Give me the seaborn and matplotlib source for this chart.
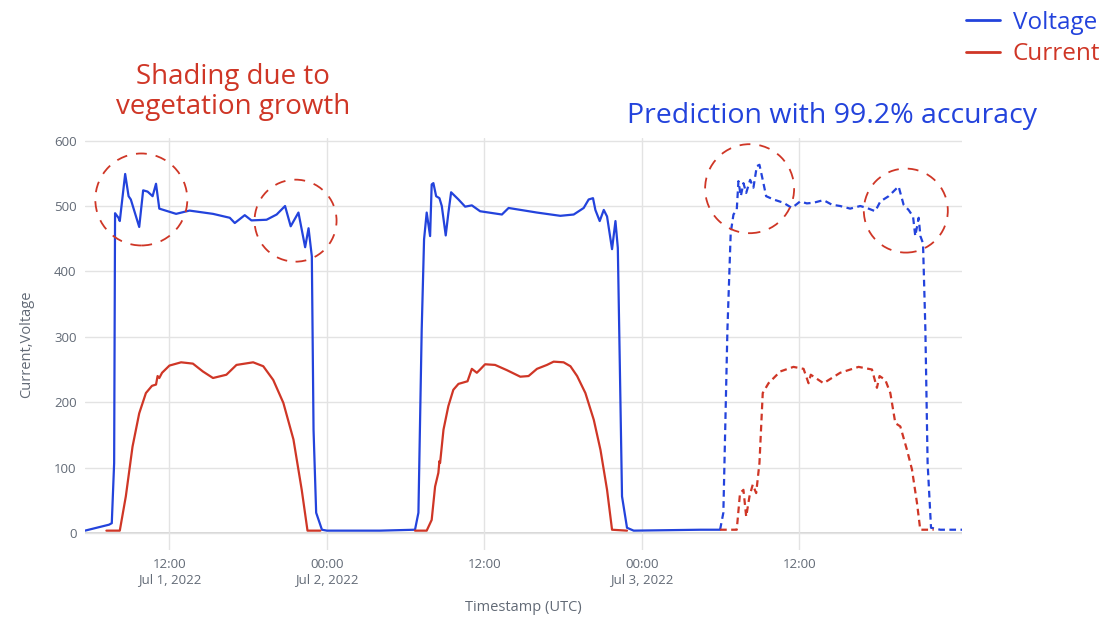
import pandas as pd
import numpy as np
import matplotlib
matplotlib.use('Agg')
import matplotlib.pyplot as plt
import seaborn as sns
from matplotlib.patches import Ellipse
from matplotlib.lines import Line2D

# hours counted from 2022-07-01 00:00 UTC
volt_hours = [5.57, 7.40, 7.61, 7.79, 7.86, 8.12, 8.22, 8.63, 8.89, 9.06, 9.70, 10.0, 10.34,
              10.72, 10.98, 11.23, 12.51, 13.53, 15.32, 16.6, 16.98, 17.74, 18.25, 19.40,
              20.17, 20.81, 21.24, 21.83, 22.34, 22.6, 22.85, 22.98, 23.18, 23.62, 24.0,
              28.04, 30.71, 30.97, 31.22, 31.40, 31.6, 31.86, 31.98, 32.11, 32.32, 32.57,
              32.75, 33.05, 33.25, 33.46, 34.02, 34.53, 35.04, 35.67, 37.33, 37.84, 40.0,
              41.78, 42.80, 43.56, 43.94, 44.27, 44.45, 44.78, 45.09, 45.34, 45.72, 45.98,
              46.16, 46.31, 46.48, 46.86, 47.37, 52.46, 53.95]
volt_vals = [3.6, 12.7, 15, 107, 489, 482, 477, 549, 515, 510, 468, 524, 522,
             515, 534, 496, 488, 493, 488, 482, 474, 486, 478, 479,
             487, 500, 469, 490, 437, 466, 423, 158, 31, 5, 3.6,
             3.6, 5, 31, 311, 449, 490, 454, 533, 535, 515, 512,
             500, 455, 489, 521, 510, 499, 501, 492, 487, 497, 490,
             485, 487, 497, 510, 512, 494, 477, 494, 484, 434, 477,
             436, 260, 56, 8, 3.6, 5, 5]

curr1_hours = [7.2, 8.22, 8.68, 9.19, 9.70, 10.21, 10.67, 10.98, 11.1, 11.23, 11.44, 12.0,
               12.89, 13.79, 14.55, 15.32, 16.34, 17.11, 18.38, 19.15, 19.91, 20.68, 21.45,
               22.08, 22.52, 23.5]
curr1_vals = [3.6, 3.6, 56, 132, 183, 214, 225, 227, 240, 237, 245, 256,
              261, 259, 247, 237, 242, 257, 261, 255, 234, 199, 143,
              66, 3.6, 3.6]

curr2_hours = [30.71, 31.6, 31.98, 32.24, 32.49, 32.57, 32.62, 32.88, 33.25, 33.63, 34.02,
               34.71, 35.04, 35.42, 35.67, 36.05, 36.81, 37.71, 38.73, 39.36, 40.0, 40.76,
               41.27, 42.03, 42.55, 43.06, 43.69, 44.33, 44.84, 45.34, 45.72, 46.86]
curr2_vals = [3.6, 3.6, 20, 71, 92, 110, 107, 158, 194, 219, 228,
              232, 251, 245, 250, 258, 257, 249, 239, 240, 251, 257,
              262, 261, 255, 240, 214, 173, 127, 66, 5, 3.6]

pred_volt_hours = [53.95, 54.20, 54.51, 54.76, 54.97, 55.22, 55.35, 55.53, 55.73, 55.94,
                   56.24, 56.49, 56.75, 56.95, 57.20, 57.46, 58.02, 58.78, 59.42, 60.05,
                   60.56, 61.07, 61.83, 62.47, 63.10, 63.86, 64.63, 65.14, 65.77, 66.16,
                   66.79, 67.55, 67.93, 68.31, 68.65, 68.82, 69.08, 69.21, 69.41, 69.59,
                   69.76, 70.02, 70.73, 72.38]
pred_volt_vals = [5, 31, 311, 459, 487, 494, 538, 515, 535, 520,
                  540, 528, 561, 563, 540, 515, 510, 505, 497, 507,
                  504, 505, 509, 502, 500, 496, 500, 497, 492, 507,
                  515, 530, 502, 494, 484, 454, 482, 454, 443, 311,
                  107, 8, 5, 5]

pred_curr_hours = [53.95, 55.22, 55.47, 55.73, 55.94, 56.19, 56.44, 56.70, 56.95, 57.20,
                   57.64, 58.53, 59.54, 60.31, 60.69, 60.86, 61.83, 63.10, 64.50, 65.52,
                   65.90, 66.10, 66.54, 66.92, 67.30, 67.68, 68.19, 68.57, 68.95, 69.20, 70.22]
pred_curr_vals = [5, 5, 61, 66, 25, 56, 74, 61, 107, 214,
                  229, 247, 254, 251, 229, 242, 229, 245, 254, 250,
                  222, 240, 234, 214, 168, 163, 127, 97, 46, 5, 5]

# dashed highlight circles: centre hour, centre value, radius in px
circle_hours = [9.86, 21.61, 56.2, 68.1]
circle_vals = [510, 477.6, 526.5, 493]
circle_radius_px = [46, 41, 44.5, 42]

tick_hours = [12, 24, 36, 48, 60]
tick_labels = ['12:00\nJul 1, 2022', '00:00\nJul 2, 2022', '12:00', '00:00\nJul 3, 2022', '12:00']

base = pd.Timestamp('2022-07-01 00:00')


def to_df(hours, vals):
    return pd.DataFrame({'time': base + pd.to_timedelta(hours, unit='h'), 'value': vals})


blue = '#2343dc'
red = '#cf3626'
grey = '#626a76'

sns.set_theme(style='white')
plt.rcParams['font.family'] = ['Open Sans', 'DejaVu Sans']

fig = plt.figure(figsize=(11.11, 6.2), dpi=100)
ax = fig.add_axes([85 / 1111, 1 - 550 / 620, (962 - 85) / 1111, (550 - 138) / 620])

lw = 1.6
d = to_df(volt_hours, volt_vals)
sns.lineplot(data=d, x='time', y='value', ax=ax, color=blue, linewidth=lw)
d = to_df(pred_volt_hours, pred_volt_vals)
sns.lineplot(data=d, x='time', y='value', ax=ax, color=blue, linewidth=lw, linestyle=(0, (3, 2)))
for h, v in [(curr1_hours, curr1_vals), (curr2_hours, curr2_vals)]:
    sns.lineplot(data=to_df(h, v), x='time', y='value', ax=ax, color=red, linewidth=lw)
d = to_df(pred_curr_hours, pred_curr_vals)
sns.lineplot(data=d, x='time', y='value', ax=ax, color=red, linewidth=lw, linestyle=(0, (3, 2)))

tmin = base + pd.Timedelta(hours=5.57)
tmax = base + pd.Timedelta(hours=72.38)
ax.set_xlim(tmin, tmax)
ax.set_ylim(-26, 604)

ax.set_xticks(list(base + pd.to_timedelta(tick_hours, unit='h')))
ax.set_xticklabels(tick_labels)
ax.set_yticks([0, 100, 200, 300, 400, 500, 600])
ax.grid(True, color='#e3e3e3', linewidth=1)
ax.axhline(0, color='#d0d0d0', linewidth=1.2, zorder=0)
for s in ax.spines.values():
    s.set_visible(False)
ax.tick_params(axis='both', colors=grey, labelsize=9.5, length=0, pad=6)
ax.set_xlabel('Timestamp (UTC)', color=grey, fontsize=10.5, labelpad=10)
ax.set_ylabel('Current,Voltage', color=grey, fontsize=10.5, labelpad=14)

# circles as ellipses in data units so they look round on screen
px_per_hour = (962 - 85) / (72.38 - 5.57)
px_per_unit = (550 - 138) / 630
for h, v, r in zip(circle_hours, circle_vals, circle_radius_px):
    c = base + pd.Timedelta(hours=h)
    e = Ellipse((matplotlib.dates.date2num(c), v), width=2 * r / px_per_hour / 24,
                height=2 * r / px_per_unit, fill=False, edgecolor=red,
                linestyle=(0, (6, 5)), linewidth=1.3, zorder=5)
    ax.add_patch(e)

fig.text(233 / 1111, 1 - 92 / 620, 'Shading due to\nvegetation growth', color=red,
         fontsize=20, ha='center', va='center', linespacing=1.05)
fig.text(832 / 1111, 1 - 116 / 620, 'Prediction with 99.2% accuracy', color=blue,
         fontsize=20.5, ha='center', va='center')

handles = [Line2D([0], [0], color=blue, lw=2), Line2D([0], [0], color=red, lw=2)]
fig.legend(handles, ['Voltage', 'Current'], loc='upper right', bbox_to_anchor=(1.0, 1.0),
           frameon=False, labelcolor='linecolor', handlelength=1.4,
           handletextpad=0.5, borderaxespad=0.05, labelspacing=0.3,
           prop={'family': ['Open Sans', 'DejaVu Sans'], 'size': 17.5})

fig.savefig('out.png', dpi=100)
